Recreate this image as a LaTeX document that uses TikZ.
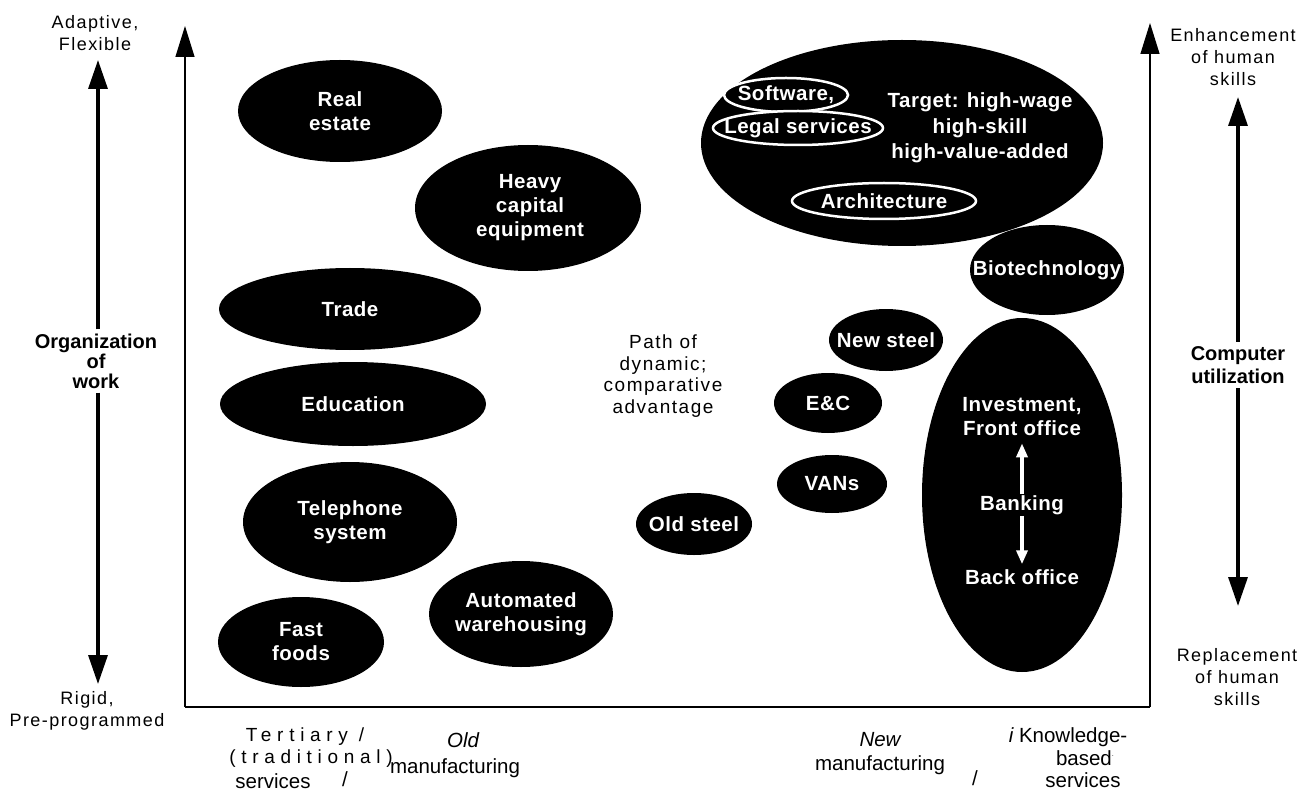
\documentclass[tikz,border=0pt]{standalone}
\usepackage{fontspec}
\setmainfont{Liberation Sans}
\newfontfamily\spacedfont[LetterSpace=8]{Liberation Sans}
\newfontfamily\widefont[LetterSpace=30]{Liberation Sans}
\newfontfamily\labelfont[LetterSpace=2.5]{Liberation Sans}
\usetikzlibrary{shapes.geometric,arrows.meta}
\begin{document}
\begin{tikzpicture}[x=1pt,y=-1pt,
  blob/.style={ellipse, fill=black, inner sep=0pt},
  ring/.style={ellipse, fill=black, draw=white, line width=2.5pt, inner sep=0pt},
  lbl/.style={text=white, font=\labelfont\bfseries\fontsize{20.5}{24}\selectfont, align=center},
  axislbl/.style={font=\spacedfont\fontsize{18}{22}\selectfont, align=center},
  boldlbl/.style={font=\bfseries\fontsize{20}{20}\selectfont, align=center},
  xlbl/.style={font=\fontsize{20.5}{24}\selectfont, align=center, inner sep=0pt},
  widelbl/.style={font=\widefont\fontsize{19}{22}\selectfont, inner sep=0pt},
  pathlbl/.style={font=\spacedfont\fontsize{19}{21.7}\selectfont, align=center},
  axisline/.style={line width=1.3pt, -{Triangle[width=19pt,length=31pt]}},
  fatarrow/.style={line width=3.3pt, -{Triangle[width=19pt,length=29pt]}},
  whitearrow/.style={draw=white, line width=3.5pt, -{Triangle[width=11pt,length=14pt]}}
]
\useasboundingbox (0,0) rectangle (1313,791);

% axes
\coordinate (origin) at (185,707);
\coordinate (ytop) at (185,26);
\coordinate (rbot) at (1150,707);
\coordinate (rtop) at (1150,23);
\draw[line width=1.3pt] (origin) -- (rbot);
\draw[axisline] (origin) -- (ytop);
\draw[axisline] (rbot) -- (rtop);

% left labels
\node[axislbl] (adapt) at (95,33) {Adaptive,\\Flexible};
\node[boldlbl, inner sep=4pt] (orgwork) at (96,361) {Organization\\of\\work};
\node[axislbl] (rigid) at (87,711) {Rigid,\\Pre-programmed};
\coordinate (orgtop) at (98,60);
\coordinate (orgbot) at (98,684);
\draw[fatarrow] (orgwork.north -| orgtop) -- (orgtop);
\draw[fatarrow] (orgwork.south -| orgbot) -- (orgbot);

% right labels
\node[axislbl] (enh) at (1233,57) {Enhancement\\of human\\skills};
\node[boldlbl, font=\bfseries\fontsize{20}{23.5}\selectfont, inner sep=4pt] (comp) at (1238,365) {Computer\\utilization};
\node[axislbl] (repl) at (1237,677) {Replacement\\of human\\skills};
\coordinate (comptop) at (1238,97);
\coordinate (compbot) at (1238,606);
\draw[fatarrow] (comp.north -| comptop) -- (comptop);
\draw[fatarrow] (comp.south -| compbot) -- (compbot);

% left-hand ellipses
\node[blob, minimum width=204pt, minimum height=102pt, label={[lbl]center:{Real\\estate}}] (realestate) at (340,111) {};
\node[blob, minimum width=226pt, minimum height=126pt] (heavy) at (528,208) {};
\node[lbl] (heavytxt) at (530,208) {Heavy\\capital\\equipment};
\node[blob, minimum width=262pt, minimum height=82pt, label={[lbl]center:{Trade}}] (trade) at (350,309) {};
\node[blob, minimum width=266pt, minimum height=84pt, label={[lbl]center:{Education}}] (education) at (353,404) {};
\node[blob, minimum width=214pt, minimum height=120pt, label={[lbl]center:{Telephone\\system}}] (telephone) at (350,522) {};
\node[blob, minimum width=166pt, minimum height=90pt, label={[lbl]center:{Fast\\foods}}] (fastfoods) at (301,642) {};
\node[blob, minimum width=184pt, minimum height=106pt, label={[lbl]center:{Automated\\warehousing}}] (autowh) at (521,614) {};

% middle
\node[pathlbl] (pathtxt) at (663,376) {Path of\\dynamic;\\comparative\\advantage};
\node[blob, minimum width=116pt, minimum height=62pt, label={[lbl]center:{Old steel}}] (oldsteel) at (694,524) {};
\node[blob, minimum width=110pt, minimum height=58pt, label={[lbl]center:{VANs}}] (vans) at (832,484) {};
\node[blob, minimum width=108pt, minimum height=60pt, label={[lbl]center:{E\&C}}] (ec) at (828,403) {};
\node[blob, minimum width=114pt, minimum height=62pt, label={[lbl]center:{New steel}}] (newsteel) at (886,340) {};

% target ellipse
\node[blob, minimum width=402pt, minimum height=206pt] (target) at (902,143) {};
\node[ring, minimum width=124pt, minimum height=34pt, label={[lbl]center:{Software,}}] (software) at (786,95) {};
\node[ring, minimum width=170pt, minimum height=34pt, label={[lbl]center:{Legal services}}] (legal) at (798,128) {};
\node[ring, minimum width=184pt, minimum height=36pt, label={[lbl]center:{Architecture}}] (arch) at (884,201) {};
\node[lbl, font=\labelfont\bfseries\fontsize{20.5}{25.5}\selectfont] (targettxt) at (980,128) {Target: high-wage\\high-skill\\high-value-added};

\node[blob, minimum width=154pt, minimum height=90pt, label={[lbl]center:{Biotechnology}}] (bio) at (1047,270) {};

% banking
\node[blob, minimum width=200pt, minimum height=354pt] (banking) at (1022,495) {};
\node[lbl, inner sep=1pt] (invest) at (1022,417) {Investment,\\Front office};
\node[lbl, inner sep=1pt] (bankingtxt) at (1022,505) {Banking};
\node[lbl, inner sep=1pt] (back) at (1022,577) {Back office};
\draw[whitearrow] (bankingtxt.north) -- ([yshift=-6pt]invest.south);
\draw[whitearrow] (bankingtxt.south) -- ([yshift=4pt]back.north);

% bottom labels
\node[widelbl] (tert) at (305,737) {Tertiary /};
\node[widelbl] (trad) at (311,759) {(traditional)};
\node[xlbl] (old) at (463,740) {\itshape Old};
\node[xlbl] (manuf1) at (455,768) {manufacturing};
\node[xlbl] (serv1) at (273,781) {services};
\node[xlbl] (slash1) at (345,779) {/};
\node[xlbl] (new) at (880,740) {\itshape New};
\node[xlbl] (manuf2) at (880,765) {manufacturing};
\node[xlbl] (slash2) at (975,778) {/};
\node[xlbl] (know) at (1068,737) {\itshape i\upshape\ Knowledge-};
\node[xlbl] (based) at (1085,758) {based\textsuperscript{\tiny -}};
\node[xlbl] (serv2) at (1083,780) {services};
\end{tikzpicture}
\end{document}
